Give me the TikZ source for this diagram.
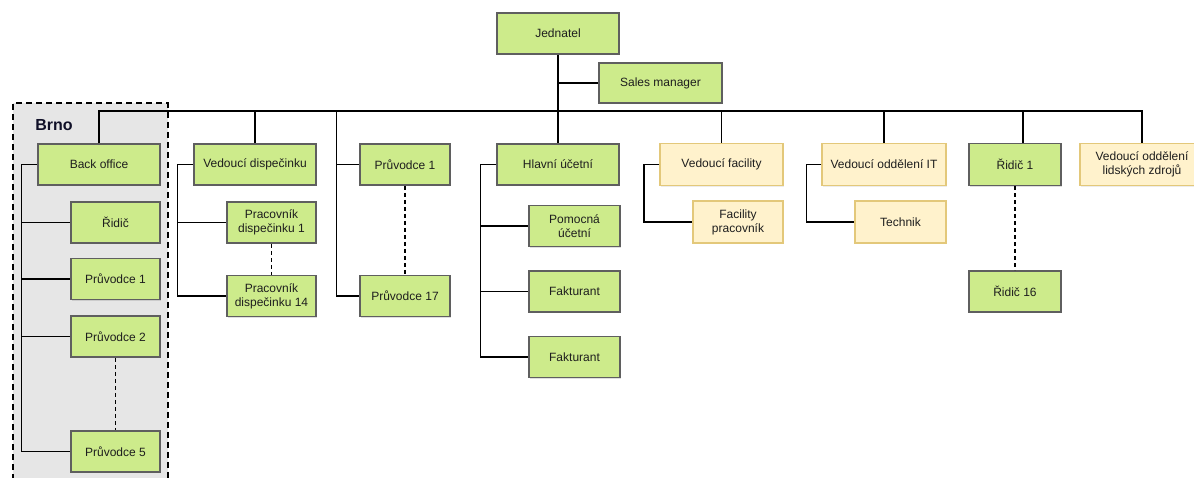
\documentclass[tikz,border=0pt]{standalone}
\usepackage{fontspec}
\setmainfont{Liberation Sans}
\usetikzlibrary{shadows}
\definecolor{gfill}{HTML}{CDEB8B}
\definecolor{gdraw}{HTML}{5F5F5F}
\definecolor{yfill}{HTML}{FFF2CC}
\definecolor{ydraw}{HTML}{E3C87A}
\definecolor{zone}{HTML}{E6E6E6}
\definecolor{txt}{HTML}{1E1E1E}
\definecolor{brnotxt}{HTML}{101028}
\tikzset{
  gbox/.style={draw=gdraw, fill=gfill, line width=1.5pt, inner sep=0pt, align=center,
    text=txt, font=\fontsize{12}{14}\selectfont,
    drop shadow={shadow xshift=1.2pt, shadow yshift=-1.2pt, opacity=0.25, fill=gray}},
  ybox/.style={draw=ydraw, fill=yfill, line width=1.5pt, inner sep=0pt, align=center,
    text=txt, font=\fontsize{12}{14}\selectfont,
    drop shadow={shadow xshift=1.2pt, shadow yshift=-1.2pt, opacity=0.15, fill=gray}},
  conn/.style={draw=black, line width=1.3pt},
  dconn/.style={draw=black, line width=1.3pt, dash pattern=on 4pt off 3pt},
  zoneline/.style={draw=black, line width=2pt, dash pattern=on 6pt off 4pt}
}
\begin{document}
\begin{tikzpicture}[x=1pt,y=-1pt]
\useasboundingbox (0,0) rectangle (1194,477);
% Brno zone
\fill[zone] (12.7,103.3) rectangle (167.7,480);
\draw[zoneline] (12.7,480) -- (12.7,103.3) -- (167.7,103.3) -- (167.7,480);
\node[font=\bfseries\fontsize{16}{18}\selectfont, text=brnotxt] (brno) at (54,125.5) {Brno};

% coordinates for bus and side lines
\coordinate (bus) at (0,111);
\coordinate (bl) at (21.7,0);
\coordinate (vl) at (177.3,0);
\coordinate (pl) at (336.7,0);
\coordinate (hl) at (480.5,0);
\coordinate (fl) at (644,0);
\coordinate (il) at (806.7,0);

% nodes
\node[gbox, minimum width=122pt, minimum height=41pt] (jed) at (558,33.5) {Jednatel};
\node[gbox, minimum width=123pt, minimum height=40pt] (sales) at (660.5,83) {Sales manager};

\node[gbox, minimum width=122pt, minimum height=41pt] (back) at (99,164.5) {Back office};
\node[gbox, minimum width=89pt, minimum height=41pt] (ridic) at (115.5,222.5) {Řidič};
\node[gbox, minimum width=89pt, minimum height=41pt] (pr1b) at (115.5,279) {Průvodce 1};
\node[gbox, minimum width=89pt, minimum height=41pt] (pr2b) at (115.5,336.5) {Průvodce 2};
\node[gbox, minimum width=89pt, minimum height=41pt] (pr5b) at (115.5,451.5) {Průvodce 5};

\node[gbox, minimum width=122pt, minimum height=41pt] (vd) at (255,164.5) {Vedoucí dispečinku};
\node[gbox, minimum width=89pt, minimum height=41pt] (pd1) at (271.5,222.5) {Pracovník\\dispečinku 1};
\node[gbox, minimum width=89pt, minimum height=41pt] (pd14) at (271.5,296) {Pracovník\\dispečinku 14};

\node[gbox, minimum width=90pt, minimum height=41pt] (pv1) at (405,164.5) {Průvodce 1};
\node[gbox, minimum width=90pt, minimum height=41pt] (pv17) at (405,296) {Průvodce 17};

\node[gbox, minimum width=122pt, minimum height=41pt] (hu) at (558,164.5) {Hlavní účetní};
\node[gbox, minimum width=91pt, minimum height=41pt] (pu) at (574.5,226) {Pomocná\\účetní};
\node[gbox, minimum width=91pt, minimum height=41pt] (fak1) at (574.5,291.5) {Fakturant};
\node[gbox, minimum width=91pt, minimum height=41pt] (fak2) at (574.5,357) {Fakturant};

\node[ybox, minimum width=123pt, minimum height=42pt] (vf) at (721.5,164.5) {Vedoucí facility};
\node[ybox, minimum width=90pt, minimum height=42pt] (fp) at (738,222) {Facility\\pracovník};

\node[ybox, minimum width=124pt, minimum height=42pt] (vit) at (884,164.5) {Vedoucí oddělení IT};
\node[ybox, minimum width=91pt, minimum height=42pt] (tech) at (900.5,222) {Technik};

\node[gbox, minimum width=92pt, minimum height=42pt] (r1) at (1015,164.5) {Řidič 1};
\node[gbox, minimum width=92pt, minimum height=41pt] (r16) at (1015,291.5) {Řidič 16};

\node[ybox, minimum width=124pt, minimum height=42pt] (hr) at (1142,164.5) {Vedoucí oddělení\\lidských zdrojů};

% connectors: top
\draw[conn] (jed.south) -- (hu.north);
\draw[conn] (sales.west -| jed.south) -- (sales.west);
\draw[conn] (back.north) -- (back.north |- bus) -- (hr.north |- bus) -- (hr.north);
\draw[conn] (vd.north |- bus) -- (vd.north);
\draw[conn] (vf.north |- bus) -- (vf.north);
\draw[conn] (vit.north |- bus) -- (vit.north);
\draw[conn] ([xshift=8pt]r1.north |- bus) -- ([xshift=8pt]r1.north);

% Brno group
\draw[conn] (back.west) -- (back.west -| bl) -- (pr5b.west -| bl) -- (pr5b.west);
\draw[conn] (ridic.west -| bl) -- (ridic.west);
\draw[conn] (pr1b.west -| bl) -- (pr1b.west);
\draw[conn] (pr2b.west -| bl) -- (pr2b.west);
\draw[dconn] (pr2b.south) -- (pr5b.north);

% dispecink group
\draw[conn] (vd.west) -- (vd.west -| vl) -- (pd14.west -| vl) -- (pd14.west);
\draw[conn] (pd1.west -| vl) -- (pd1.west);
\draw[dconn] (pd1.south) -- (pd14.north);

% pruvodce group
\draw[conn] (pl |- bus) -- (pv17.west -| pl) -- (pv17.west);
\draw[conn] (pv1.west -| pl) -- (pv1.west);
\draw[dconn] (pv1.south) -- (pv17.north);

% ucetni group
\draw[conn] (hu.west) -- (hu.west -| hl) -- (fak2.west -| hl) -- (fak2.west);
\draw[conn] (pu.west -| hl) -- (pu.west);
\draw[conn] (fak1.west -| hl) -- (fak1.west);

% facility group
\draw[conn] (vf.west) -- (vf.west -| fl) -- (fp.west -| fl) -- (fp.west);
% IT group
\draw[conn] (vit.west) -- (vit.west -| il) -- (tech.west -| il) -- (tech.west);
% ridic
\draw[dconn] (r1.south) -- (r16.north);
\end{tikzpicture}
\end{document}
